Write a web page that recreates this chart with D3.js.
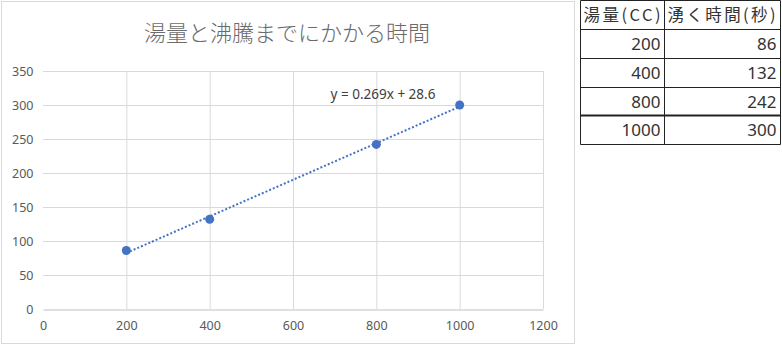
<!DOCTYPE html>
<html>
<head>
<meta charset="utf-8">
<script src="https://cdn.jsdelivr.net/npm/d3@7"></script>
<style>
  body { margin: 0; background: #fff; font-family: "Noto Sans CJK JP", "Noto Sans", sans-serif; }
  svg { display: block; }
</style>
</head>
<body>
<svg id="chart" width="782" height="347"></svg>
<script>
// data
var volumes = [200, 400, 800, 1000];
var times = [86, 132, 242, 300];
var xTicks = [0, 200, 400, 600, 800, 1000, 1200];
var yTicks = [0, 50, 100, 150, 200, 250, 300, 350];
var headers = ["湯量(CC)", "湧く時間(秒)"];
var slope = 0.269, intercept = 28.6;

var svg = d3.select("#chart");
var grey = "#595959";
var blue = "#4472C4";

// chart box
svg.append("rect")
  .attr("x", 1.5).attr("y", 1.5)
  .attr("width", 573).attr("height", 342)
  .attr("fill", "#fff")
  .attr("stroke", "#d9d9d9");

svg.append("text")
  .attr("x", 287).attr("y", 41)
  .attr("text-anchor", "middle")
  .attr("font-size", 22)
  .attr("font-weight", 300)
  .attr("fill", "#6b6b6b")
  .text("湯量と沸騰までにかかる時間");

var x = d3.scaleLinear().domain([0, 1200]).range([43, 543]);
var y = d3.scaleLinear().domain([0, 350]).range([309, 71]);

// gridlines
var grid = svg.append("g");
grid.selectAll(".hg").data(yTicks.filter(d => d > 0)).enter().append("line")
  .attr("x1", x(0)).attr("x2", x(1200))
  .attr("y1", d => y(d) + 0.5).attr("y2", d => y(d) + 0.5)
  .attr("stroke", "#d9d9d9");
grid.selectAll(".vg").data(xTicks.filter(d => d > 0)).enter().append("line")
  .attr("x1", d => x(d) + 0.5).attr("x2", d => x(d) + 0.5)
  .attr("y1", y(0)).attr("y2", y(350))
  .attr("stroke", "#d9d9d9");

// axes
var xAxis = svg.append("g")
  .attr("transform", "translate(0," + (y(0) + 0.5) + ")")
  .call(d3.axisBottom(x).tickValues(xTicks).tickFormat(d3.format("d")).tickSize(0).tickPadding(12));
var yAxis = svg.append("g")
  .attr("transform", "translate(" + (x(0) + 0.5) + ",0)")
  .call(d3.axisLeft(y).tickValues(yTicks).tickFormat(d3.format("d")).tickSize(0).tickPadding(10));
[xAxis, yAxis].forEach(function(a) {
  a.select(".domain").attr("stroke", "#bfbfbf");
  a.selectAll("text").attr("fill", grey).attr("font-size", 12.5)
    .attr("font-family", "'Noto Sans', sans-serif");
});
yAxis.select(".domain").attr("stroke", "none");

// trendline
svg.append("line")
  .attr("x1", x(volumes[0])).attr("y1", y(slope * volumes[0] + intercept))
  .attr("x2", x(volumes[3])).attr("y2", y(slope * volumes[3] + intercept))
  .attr("stroke", blue)
  .attr("stroke-width", 2)
  .attr("stroke-dasharray", "2,2");

svg.selectAll(".pt").data(volumes).enter().append("circle")
  .attr("cx", d => x(d))
  .attr("cy", (d, i) => y(times[i]))
  .attr("r", 4.5)
  .attr("fill", blue);

svg.append("text")
  .attr("x", 383).attr("y", 99)
  .attr("text-anchor", "middle")
  .attr("font-size", 13.5)
  .attr("font-family", "'Noto Sans', sans-serif")
  .attr("fill", "#404040")
  .text("y = " + slope + "x + " + intercept);

// table
var tX = [580.5, 664.5, 780.5];
var tY = [0.5, 29.5, 58.5, 87.5, 115.5, 144.5];
var tbl = svg.append("g");
tbl.selectAll(".hl").data(tY).enter().append("line")
  .attr("x1", tX[0]).attr("x2", tX[2])
  .attr("y1", d => d).attr("y2", d => d)
  .attr("stroke", "#222")
  .attr("stroke-width", (d, i) => i == 4 ? 2 : 1);
tbl.selectAll(".vl").data(tX).enter().append("line")
  .attr("x1", d => d).attr("x2", d => d)
  .attr("y1", tY[0]).attr("y2", tY[5])
  .attr("stroke", "#222");

tbl.selectAll(".hd").data(headers).enter().append("text")
  .attr("x", (d, i) => tX[i] + 3)
  .attr("y", 21)
  .attr("font-size", 16.5)
  .attr("fill", "#333")
  .attr("textLength", (d, i) => i == 0 ? 77 : 108)
  .text(d => d);

volumes.forEach(function(v, i) {
  var ty = (tY[i + 1] + tY[i + 2]) / 2 + 6;
  tbl.append("text").attr("x", tX[1] - 4).attr("y", ty)
    .attr("text-anchor", "end").attr("font-size", 17).attr("fill", "#333")
    .attr("font-family", "'Noto Sans', sans-serif")
    .text(v);
  tbl.append("text").attr("x", tX[2] - 4).attr("y", ty)
    .attr("text-anchor", "end").attr("font-size", 17).attr("fill", "#333")
    .attr("font-family", "'Noto Sans', sans-serif")
    .text(times[i]);
});
</script>
</body>
</html>
